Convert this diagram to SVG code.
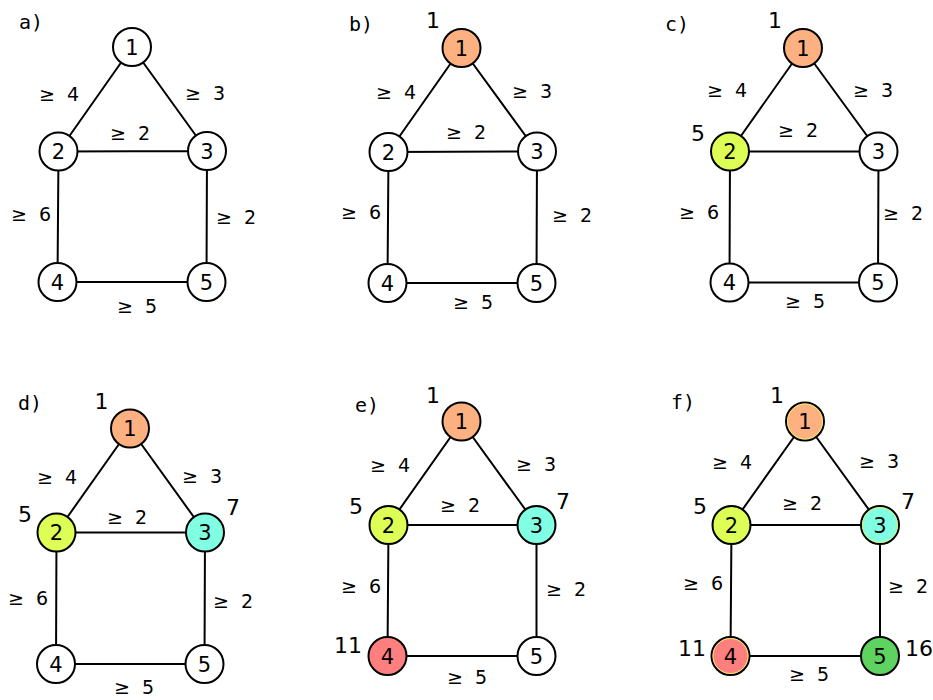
<svg xmlns="http://www.w3.org/2000/svg" width="933" height="700" viewBox="0 0 933 700">
<style>
.bg{fill:#fff}
.e{stroke:#000;stroke-width:2;fill:none}
.n{stroke:#000;stroke-width:2;fill:#fff}
.o{fill:#feb180}.y{fill:#ddff55}.c{fill:#80ffe3}.r{fill:#ff7f7f}.g{fill:#5fd35f}
.ring{fill:none;stroke:#e8f060;stroke-width:1}
text{font-family:"DejaVu Sans","Liberation Sans",sans-serif;fill:#000}
.nt{font-size:21px;text-anchor:middle}
.el{font-size:19px;text-anchor:middle;white-space:pre}
.ol{font-size:22px;text-anchor:middle}
.pl{font-family:"DejaVu Sans Mono","Liberation Mono",monospace;font-size:20px;white-space:pre}
</style>
<rect class="bg" width="933" height="700"/>

<g id="connectors">
<path class="e" d="M132,47L58.5,151.5M132,47L207,151M58.5,151.5L207,151M58.5,151.5L57.5,282M207,151L206.5,282M57.5,282L206.5,282"/>
<path class="e" d="M461.5,48L388.5,152M461.5,48L537,151.5M388.5,152L537,151.5M388.5,152L387.5,283M537,151.5L536.5,283M387.5,283L536.5,283"/>
<path class="e" d="M803,48L730,151.5M803,48L878.5,151.5M730,151.5L878.5,151.5M730,151.5L729.5,282.5M878.5,151.5L878,282.5M729.5,282.5L878,282.5"/>
<path class="e" d="M130,428.5L56.5,532.5M130,428.5L205,532.5M56.5,532.5L205,532.5M56.5,532.5L56,664M205,532.5L204.5,664M56,664L204.5,664"/>
<path class="e" d="M461.5,421.5L388.5,525M461.5,421.5L536.5,525M388.5,525L536.5,525M388.5,525L387.5,656M536.5,525L536.5,656M387.5,656L536.5,656"/>
<path class="e" d="M805,421.5L731.5,525M805,421.5L880,525M731.5,525L880,525M731.5,525L730.5,656M880,525L880,656M730.5,656L880,656"/>
</g>

<g id="edge-labels">
<text class="el" x="59" y="101">≥  4</text><text class="el" x="205" y="100">≥  3</text><text class="el" x="130" y="140">≥  2</text><text class="el" x="31" y="221">≥  6</text><text class="el" x="236" y="224">≥  2</text><text class="el" x="137" y="313">≥  5</text>
<text class="el" x="396" y="99">≥  4</text><text class="el" x="532" y="98">≥  3</text><text class="el" x="466" y="139">≥  2</text><text class="el" x="361" y="219">≥  6</text><text class="el" x="572" y="222">≥  2</text><text class="el" x="473" y="309">≥  5</text>
<text class="el" x="727" y="97">≥  4</text><text class="el" x="873" y="97">≥  3</text><text class="el" x="798" y="137">≥  2</text><text class="el" x="699" y="219">≥  6</text><text class="el" x="903" y="220">≥  2</text><text class="el" x="805" y="308">≥  5</text>
<text class="el" x="57" y="484">≥  4</text><text class="el" x="202" y="483">≥  3</text><text class="el" x="127" y="524">≥  2</text><text class="el" x="28" y="605">≥  6</text><text class="el" x="233" y="608">≥  2</text><text class="el" x="134" y="694">≥  5</text>
<text class="el" x="390" y="472">≥  4</text><text class="el" x="536" y="471">≥  3</text><text class="el" x="460" y="512">≥  2</text><text class="el" x="361" y="593">≥  6</text><text class="el" x="566" y="596">≥  2</text><text class="el" x="467" y="684">≥  5</text>
<text class="el" x="732" y="469">≥  4</text><text class="el" x="879" y="468">≥  3</text><text class="el" x="802" y="510">≥  2</text><text class="el" x="703" y="590">≥  6</text><text class="el" x="908" y="593">≥  2</text><text class="el" x="809" y="681">≥  5</text>
</g>

<g id="panel-labels">
<text class="pl" x="19" y="29">a)</text>
<text class="pl" x="349" y="31">b)</text>
<text class="pl" x="665" y="31">c)</text>
<text class="pl" x="18" y="410">d)</text>
<text class="pl" x="355" y="412">e)</text>
<text class="pl" x="671" y="409">f)</text>
</g>

<g id="a-n1"><circle class="n" cx="132" cy="47" r="19"/><text class="nt" x="132" y="54.5">1</text></g>
<g id="a-n2"><circle class="n" cx="58.5" cy="151.5" r="19"/><text class="nt" x="58.5" y="159">2</text></g>
<g id="a-n3"><circle class="n" cx="207" cy="151" r="19"/><text class="nt" x="207" y="158.5">3</text></g>
<g id="a-n4"><circle class="n" cx="57.5" cy="282" r="19"/><text class="nt" x="57.5" y="289.5">4</text></g>
<g id="a-n5"><circle class="n" cx="206.5" cy="282" r="19"/><text class="nt" x="206.5" y="289.5">5</text></g>

<g id="b-n1"><circle class="n o" cx="461.5" cy="48" r="19"/><text class="nt" x="461.5" y="55.5">1</text><text class="ol" x="433" y="28">1</text></g>
<g id="b-n2"><circle class="n" cx="388.5" cy="152" r="19"/><text class="nt" x="388.5" y="159.5">2</text></g>
<g id="b-n3"><circle class="n" cx="537" cy="151.5" r="19"/><text class="nt" x="537" y="159">3</text></g>
<g id="b-n4"><circle class="n" cx="387.5" cy="283" r="19"/><text class="nt" x="387.5" y="290.5">4</text></g>
<g id="b-n5"><circle class="n" cx="536.5" cy="283" r="19"/><text class="nt" x="536.5" y="290.5">5</text></g>

<g id="c-n1"><circle class="n o" cx="803" cy="48" r="19"/><text class="nt" x="803" y="55.5">1</text><text class="ol" x="775" y="28">1</text></g>
<g id="c-n2"><circle class="n y" cx="730" cy="151.5" r="19"/><text class="nt" x="730" y="159">2</text><text class="ol" x="698" y="141">5</text></g>
<g id="c-n3"><circle class="n" cx="878.5" cy="151.5" r="19"/><text class="nt" x="878.5" y="159">3</text></g>
<g id="c-n4"><circle class="n" cx="729.5" cy="282.5" r="19"/><text class="nt" x="729.5" y="290">4</text></g>
<g id="c-n5"><circle class="n" cx="878" cy="282.5" r="19"/><text class="nt" x="878" y="290">5</text></g>

<g id="d-n1"><circle class="n o" cx="130" cy="428.5" r="19"/><text class="nt" x="130" y="436">1</text><text class="ol" x="101.5" y="409">1</text></g>
<g id="d-n2"><circle class="n y" cx="56.5" cy="532.5" r="19"/><text class="nt" x="56.5" y="540">2</text><text class="ol" x="25" y="522">5</text></g>
<g id="d-n3"><circle class="n c" cx="205" cy="532.5" r="19"/><text class="nt" x="205" y="540">3</text><text class="ol" x="233" y="515">7</text></g>
<g id="d-n4"><circle class="n" cx="56" cy="664" r="19"/><text class="nt" x="56" y="671.5">4</text></g>
<g id="d-n5"><circle class="n" cx="204.5" cy="664" r="19"/><text class="nt" x="204.5" y="671.5">5</text></g>

<g id="e-n1"><circle class="n o" cx="461.5" cy="421.5" r="19"/><text class="nt" x="461.5" y="429">1</text><text class="ol" x="433" y="403">1</text></g>
<g id="e-n2"><circle class="n y" cx="388.5" cy="525" r="19"/><text class="nt" x="388.5" y="532.5">2</text><text class="ol" x="356" y="514">5</text></g>
<g id="e-n3"><circle class="n c" cx="536.5" cy="525" r="19"/><text class="nt" x="536.5" y="532.5">3</text><text class="ol" x="563" y="509">7</text></g>
<g id="e-n4"><circle class="n r" cx="387.5" cy="656" r="19"/><text class="nt" x="387.5" y="663.5">4</text><text class="ol" x="348" y="653">11</text></g>
<g id="e-n5"><circle class="n" cx="536.5" cy="656" r="19"/><text class="nt" x="536.5" y="663.5">5</text></g>

<g id="f-n1"><circle class="n o" cx="805" cy="421.5" r="19"/><circle class="ring" cx="805" cy="421.5" r="17.5"/><text class="nt" x="805" y="429">1</text><text class="ol" x="777" y="403">1</text></g>
<g id="f-n2"><circle class="n y" cx="731.5" cy="525" r="19"/><text class="nt" x="731.5" y="532.5">2</text><text class="ol" x="700" y="514">5</text></g>
<g id="f-n3"><circle class="n c" cx="880" cy="525" r="19"/><circle class="ring" cx="880" cy="525" r="17.5"/><text class="nt" x="880" y="532.5">3</text><text class="ol" x="908" y="509">7</text></g>
<g id="f-n4"><circle class="n r" cx="730.5" cy="656" r="19"/><circle class="ring" cx="730.5" cy="656" r="17.5"/><text class="nt" x="730.5" y="663.5">4</text><text class="ol" x="692" y="656">11</text></g>
<g id="f-n5"><circle class="n g" cx="880" cy="656" r="19"/><text class="nt" x="880" y="663.5">5</text><text class="ol" x="919" y="656">16</text></g>
</svg>
